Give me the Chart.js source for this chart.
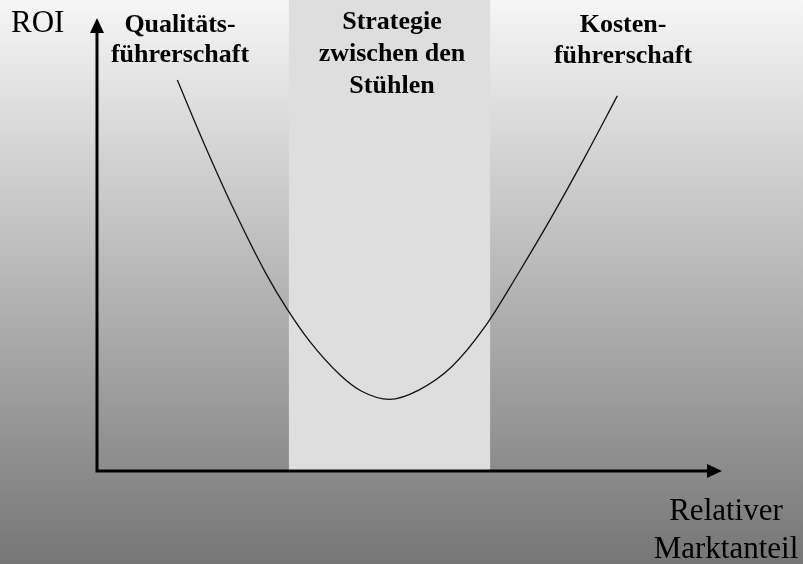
<!DOCTYPE html>
<html>
<head>
<meta charset="utf-8">
<script src="https://cdn.jsdelivr.net/npm/chart.js@4.4.0/dist/chart.umd.min.js"></script>
<style>
  html, body { margin: 0; padding: 0; background: #fff; }
  #wrap { width: 803px; height: 564px; }
</style>
</head>
<body>
<div id="wrap"><canvas id="chart" width="803" height="564"></canvas></div>
<script>
// ####################### DATA #######################

// relative market share (0..100 along the x axis) and ROI (0..100 along the y axis)
var marketShare = [12.85, 17.0, 21.8, 27.15, 30.35, 34.1, 38.9, 42.35, 46.8, 51.4, 56.75, 62.1, 67.4, 72.75, 78.1, 83.25];
var roi         = [86.3, 72.7, 58.0, 43.3, 35.9, 28.5, 21.2, 17.6, 15.8, 17.8, 23.0, 31.9, 43.6, 56.1, 69.4, 82.8];

// "stuck in the middle" band on the x axis
var bandFrom = 30.7;
var bandTo = 62.9;

var zoneLabels = [
    ["Qualitäts-", "führerschaft"],
    ["Strategie", "zwischen den", "Stühlen"],
    ["Kosten-", "führerschaft"]
];
var yAxisTitle = "ROI";
var xAxisTitle = ["Relativer", "Marktanteil"];

// ####################### HELPERS #######################

var points = [];
for (var i = 0; i < marketShare.length; i++)
    points.push({x: marketShare[i], y: roi[i]});

var serif = '"Liberation Serif", "Times New Roman", serif';

function drawLines(ctx, lines, cx, y0, step) {
    for (var i = 0; i < lines.length; i++)
        ctx.fillText(lines[i], cx, y0 + i * step);
}

// background gradient + band, before anything else
var backdrop = {
    id: 'backdrop',
    beforeDraw: function (chart) {
        var ctx = chart.ctx;
        var w = chart.width, h = chart.height;
        var g = ctx.createLinearGradient(0, 0, 0, h);
        g.addColorStop(0, '#f6f6f6');
        g.addColorStop(1, '#767676');
        ctx.save();
        ctx.fillStyle = g;
        ctx.fillRect(0, 0, w, h);

        var xs = chart.scales.x, ys = chart.scales.y;
        var left = xs.getPixelForValue(bandFrom);
        var right = xs.getPixelForValue(bandTo);
        ctx.fillStyle = '#dedede';
        ctx.fillRect(left, 0, right - left, ys.getPixelForValue(0));
        ctx.restore();
    }
};

// axes with arrowheads and all the texts
var annotations = {
    id: 'annotations',
    afterDraw: function (chart) {
        var ctx = chart.ctx;
        var xs = chart.scales.x, ys = chart.scales.y;
        var ox = xs.getPixelForValue(0), oy = ys.getPixelForValue(0);
        var xEnd = xs.getPixelForValue(100), yEnd = ys.getPixelForValue(100);

        ctx.save();
        ctx.strokeStyle = '#000';
        ctx.fillStyle = '#000';
        ctx.lineWidth = 3;
        ctx.beginPath();
        ctx.moveTo(ox, yEnd + 12);
        ctx.lineTo(ox, oy);
        ctx.lineTo(xEnd - 12, oy);
        ctx.stroke();

        // arrow heads
        ctx.beginPath();
        ctx.moveTo(ox, yEnd);
        ctx.lineTo(ox - 7, yEnd + 15);
        ctx.lineTo(ox + 7, yEnd + 15);
        ctx.closePath();
        ctx.fill();
        ctx.beginPath();
        ctx.moveTo(xEnd, oy);
        ctx.lineTo(xEnd - 15, oy - 7);
        ctx.lineTo(xEnd - 15, oy + 7);
        ctx.closePath();
        ctx.fill();

        // axis titles
        ctx.textBaseline = 'alphabetic';
        ctx.font = '31px ' + serif;
        ctx.textAlign = 'left';
        ctx.fillText(yAxisTitle, 11, 32);
        ctx.textAlign = 'center';
        drawLines(ctx, xAxisTitle, 726, 520, 38);

        // zone labels
        ctx.font = 'bold 26px ' + serif;
        drawLines(ctx, zoneLabels[0], 180, 32, 30);
        drawLines(ctx, zoneLabels[1], 392, 29, 32);
        drawLines(ctx, zoneLabels[2], 623, 32, 31);
        ctx.restore();
    }
};

// ####################### CHART #######################

new Chart(document.getElementById('chart'), {
    type: 'scatter',
    data: {
        datasets: [{
            data: points,
            showLine: true,
            borderColor: '#111',
            borderWidth: 1.3,
            pointRadius: 0,
            cubicInterpolationMode: 'monotone',
            fill: false
        }]
    },
    options: {
        responsive: false,
        animation: false,
        devicePixelRatio: 1,
        layout: {padding: {left: 97, right: 81, top: 18, bottom: 93}},
        plugins: {legend: {display: false}, tooltip: {enabled: false}},
        scales: {
            x: {type: 'linear', min: 0, max: 100, display: false},
            y: {type: 'linear', min: 0, max: 100, display: false}
        }
    },
    plugins: [backdrop, annotations]
});
</script>
</body>
</html>
